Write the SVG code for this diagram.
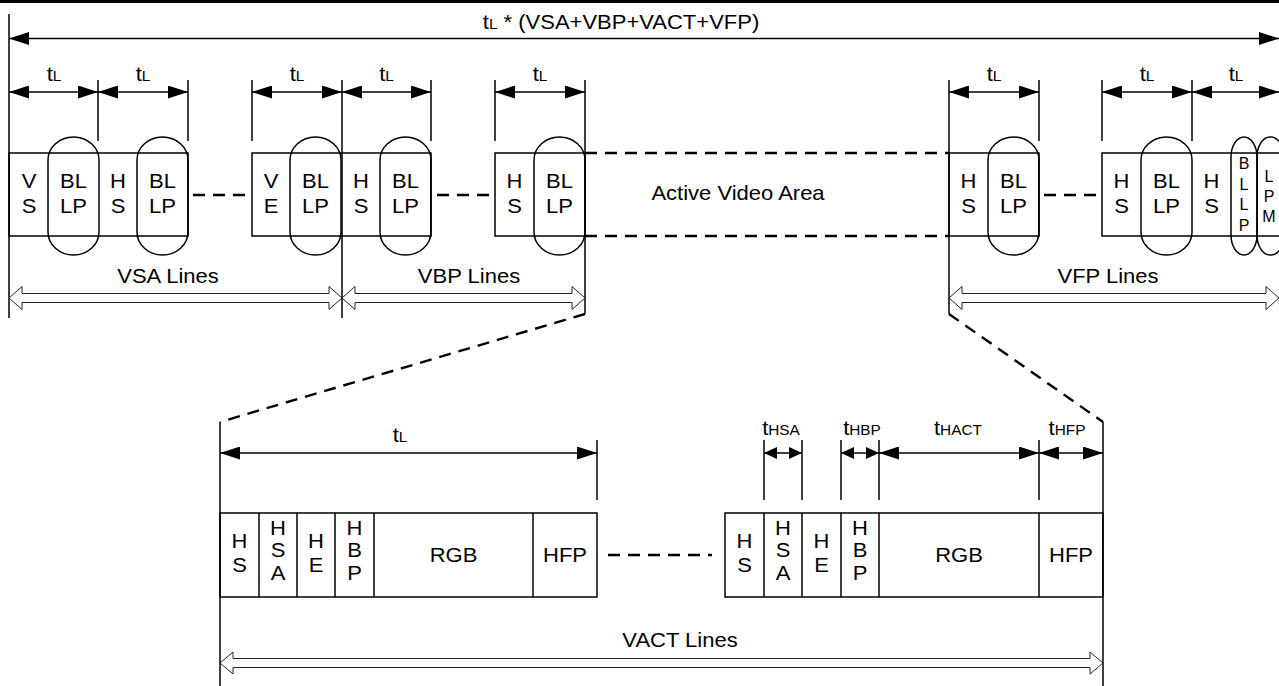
<svg xmlns="http://www.w3.org/2000/svg" width="1279" height="686" viewBox="0 0 1279 686">
<style>
.ln{stroke:#000;stroke-width:1.5;fill:none}
.dl{stroke:#000;stroke-width:2.4;fill:none;stroke-dasharray:12 8}
.pill{stroke:#000;stroke-width:1.5;fill:none}
.ha{stroke:#222;stroke-width:1;fill:#fff}
.t{font-family:"Liberation Sans",Arial,sans-serif;font-size:20px;fill:#000;text-anchor:middle}
.ts{font-family:"Liberation Sans",Arial,sans-serif;font-size:16px;fill:#000;text-anchor:middle}
.sub{font-size:14px}
</style>
<defs>
<marker id="ah" viewBox="0 0 20 13" refX="20" refY="6.5" markerWidth="20" markerHeight="13" markerUnits="userSpaceOnUse" orient="auto-start-reverse"><path d="M0,0 L20,6.5 L0,13 Z" fill="#000"/></marker>
<marker id="ahs" viewBox="0 0 13 12" refX="13" refY="6" markerWidth="13" markerHeight="12" markerUnits="userSpaceOnUse" orient="auto-start-reverse"><path d="M0,0 L13,6 L0,12 Z" fill="#000"/></marker>
</defs>
<rect x="0" y="0" width="1279" height="686" fill="#fff"/>
<rect x="0" y="0" width="1279" height="3" fill="#000"/>

<g id="connectors">
  <!-- long vertical lines -->
  <line class="ln" x1="9" y1="14" x2="9" y2="318"/>
  <line class="ln" x1="342" y1="80" x2="342" y2="318"/>
  <line class="ln" x1="585" y1="80" x2="585" y2="314"/>
  <line class="ln" x1="949" y1="80" x2="949" y2="314"/>
  <!-- ticks -->
  <line class="ln" x1="98" y1="80" x2="98" y2="141"/>
  <line class="ln" x1="188" y1="80" x2="188" y2="141"/>
  <line class="ln" x1="252" y1="80" x2="252" y2="141"/>
  <line class="ln" x1="431" y1="80" x2="431" y2="141"/>
  <line class="ln" x1="495" y1="80" x2="495" y2="141"/>
  <line class="ln" x1="1039" y1="80" x2="1039" y2="141"/>
  <line class="ln" x1="1102" y1="80" x2="1102" y2="141"/>
  <line class="ln" x1="1192" y1="80" x2="1192" y2="141"/>
  <!-- top span arrow -->
  <line class="ln" x1="9" y1="38.5" x2="1279" y2="38.5" marker-start="url(#ah)" marker-end="url(#ah)"/>
  <!-- tL arrows -->
  <line class="ln" x1="9" y1="92" x2="98" y2="92" marker-start="url(#ah)" marker-end="url(#ah)"/>
  <line class="ln" x1="98" y1="92" x2="188" y2="92" marker-start="url(#ah)" marker-end="url(#ah)"/>
  <line class="ln" x1="252" y1="92" x2="342" y2="92" marker-start="url(#ah)" marker-end="url(#ah)"/>
  <line class="ln" x1="342" y1="92" x2="431" y2="92" marker-start="url(#ah)" marker-end="url(#ah)"/>
  <line class="ln" x1="495" y1="92" x2="585" y2="92" marker-start="url(#ah)" marker-end="url(#ah)"/>
  <line class="ln" x1="949" y1="92" x2="1039" y2="92" marker-start="url(#ah)" marker-end="url(#ah)"/>
  <line class="ln" x1="1102" y1="92" x2="1192" y2="92" marker-start="url(#ah)" marker-end="url(#ah)"/>
  <line class="ln" x1="1192" y1="92" x2="1279" y2="92" marker-start="url(#ah)" marker-end="url(#ah)"/>
  <!-- dashed links in main row -->
  <line class="dl" x1="193" y1="195" x2="247" y2="195"/>
  <line class="dl" x1="437" y1="195" x2="489" y2="195"/>
  <line class="dl" x1="1044" y1="195" x2="1097" y2="195"/>
  <line class="dl" x1="585" y1="153" x2="949" y2="153"/>
  <line class="dl" x1="585" y1="236" x2="949" y2="236"/>
  <!-- hollow double arrows -->
  <path class="ha" d="M9,298 L22,286.5 L22,293.5 L329,293.5 L329,286.5 L342,298 L329,309.5 L329,302.5 L22,302.5 L22,309.5 Z"/>
  <path class="ha" d="M342,298 L355,286.5 L355,293.5 L572,293.5 L572,286.5 L585,298 L572,309.5 L572,302.5 L355,302.5 L355,309.5 Z"/>
  <path class="ha" d="M949,298 L962,286.5 L962,293.5 L1266,293.5 L1266,286.5 L1279,298 L1266,309.5 L1266,302.5 L962,302.5 L962,309.5 Z"/>
  <!-- zoom lines -->
  <line class="dl" x1="585" y1="314" x2="220" y2="422"/>
  <line class="dl" x1="949" y1="314" x2="1103" y2="422"/>
  <line class="ln" x1="220" y1="422" x2="220" y2="686"/>
  <line class="ln" x1="1103" y1="422" x2="1103" y2="686"/>
  <!-- bottom ticks and arrows -->
  <line class="ln" x1="597" y1="440" x2="597" y2="500"/>
  <line class="ln" x1="764" y1="440" x2="764" y2="500"/>
  <line class="ln" x1="802" y1="440" x2="802" y2="500"/>
  <line class="ln" x1="841" y1="440" x2="841" y2="500"/>
  <line class="ln" x1="879" y1="440" x2="879" y2="500"/>
  <line class="ln" x1="1039" y1="440" x2="1039" y2="500"/>
  <line class="ln" x1="220" y1="453" x2="597" y2="453" marker-start="url(#ah)" marker-end="url(#ah)"/>
  <line class="ln" x1="764" y1="453" x2="802" y2="453" marker-start="url(#ahs)" marker-end="url(#ahs)"/>
  <line class="ln" x1="841" y1="453" x2="879" y2="453" marker-start="url(#ahs)" marker-end="url(#ahs)"/>
  <line class="ln" x1="879" y1="453" x2="1039" y2="453" marker-start="url(#ah)" marker-end="url(#ah)"/>
  <line class="ln" x1="1039" y1="453" x2="1103" y2="453" marker-start="url(#ah)" marker-end="url(#ah)"/>
  <line class="dl" x1="608" y1="555" x2="712" y2="555"/>
  <path class="ha" d="M220,663 L233,652 L233,658.5 L1090,658.5 L1090,652 L1103,663 L1090,674 L1090,667.5 L233,667.5 L233,674 Z"/>
</g>

<g id="labels">
  <text class="t" transform="translate(621 29) scale(1.1 1)">t<tspan class="sub">L</tspan> * (VSA+VBP+VACT+VFP)</text>
  <text class="t" transform="translate(54 81) scale(1.1 1)">t<tspan class="sub">L</tspan></text>
  <text class="t" transform="translate(143 81) scale(1.1 1)">t<tspan class="sub">L</tspan></text>
  <text class="t" transform="translate(297 81) scale(1.1 1)">t<tspan class="sub">L</tspan></text>
  <text class="t" transform="translate(386.5 81) scale(1.1 1)">t<tspan class="sub">L</tspan></text>
  <text class="t" transform="translate(540 81) scale(1.1 1)">t<tspan class="sub">L</tspan></text>
  <text class="t" transform="translate(994 81) scale(1.1 1)">t<tspan class="sub">L</tspan></text>
  <text class="t" transform="translate(1147 81) scale(1.1 1)">t<tspan class="sub">L</tspan></text>
  <text class="t" transform="translate(1236 81) scale(1.1 1)">t<tspan class="sub">L</tspan></text>
  <text class="t" transform="translate(168 283) scale(1.1 1)">VSA Lines</text>
  <text class="t" transform="translate(469 283) scale(1.1 1)">VBP Lines</text>
  <text class="t" transform="translate(1108 283) scale(1.1 1)">VFP Lines</text>
  <text class="t" transform="translate(738 200) scale(1.1 1)">Active Video Area</text>
  <text class="t" transform="translate(400 442) scale(1.1 1)">t<tspan class="sub">L</tspan></text>
  <text class="t" transform="translate(781 435) scale(1.1 1)">t<tspan class="sub">HSA</tspan></text>
  <text class="t" transform="translate(862 435) scale(1.1 1)">t<tspan class="sub">HBP</tspan></text>
  <text class="t" transform="translate(958 435) scale(1.1 1)">t<tspan class="sub">HACT</tspan></text>
  <text class="t" transform="translate(1067 435) scale(1.1 1)">t<tspan class="sub">HFP</tspan></text>
  <text class="t" transform="translate(680 647) scale(1.1 1)">VACT Lines</text>
</g>

<g id="vsa-block">
  <rect class="ln" x="9" y="153" width="179" height="83"/>
  <rect class="pill" x="48" y="137" width="51" height="118" rx="25.5" ry="23"/>
  <rect class="pill" x="137" y="137" width="51" height="118" rx="25.5" ry="23"/>
  <text class="t" transform="translate(29 188) scale(1.1 1)"><tspan x="0" y="0">V</tspan><tspan x="0" y="25">S</tspan></text>
  <text class="t" transform="translate(73.5 188) scale(1.1 1)"><tspan x="0" y="0">BL</tspan><tspan x="0" y="25">LP</tspan></text>
  <text class="t" transform="translate(118 188) scale(1.1 1)"><tspan x="0" y="0">H</tspan><tspan x="0" y="25">S</tspan></text>
  <text class="t" transform="translate(162.5 188) scale(1.1 1)"><tspan x="0" y="0">BL</tspan><tspan x="0" y="25">LP</tspan></text>
</g>

<g id="ve-vbp-block">
  <rect class="ln" x="252" y="153" width="179" height="83"/>
  <rect class="pill" x="290" y="137" width="51" height="118" rx="25.5" ry="23"/>
  <rect class="pill" x="380" y="137" width="51" height="118" rx="25.5" ry="23"/>
  <text class="t" transform="translate(271 188) scale(1.1 1)"><tspan x="0" y="0">V</tspan><tspan x="0" y="25">E</tspan></text>
  <text class="t" transform="translate(315.5 188) scale(1.1 1)"><tspan x="0" y="0">BL</tspan><tspan x="0" y="25">LP</tspan></text>
  <text class="t" transform="translate(361 188) scale(1.1 1)"><tspan x="0" y="0">H</tspan><tspan x="0" y="25">S</tspan></text>
  <text class="t" transform="translate(405.5 188) scale(1.1 1)"><tspan x="0" y="0">BL</tspan><tspan x="0" y="25">LP</tspan></text>
</g>

<g id="vbp-last-block">
  <rect class="ln" x="495" y="153" width="90" height="83"/>
  <rect class="pill" x="534" y="137" width="51" height="118" rx="25.5" ry="23"/>
  <text class="t" transform="translate(514.5 188) scale(1.1 1)"><tspan x="0" y="0">H</tspan><tspan x="0" y="25">S</tspan></text>
  <text class="t" transform="translate(559.5 188) scale(1.1 1)"><tspan x="0" y="0">BL</tspan><tspan x="0" y="25">LP</tspan></text>
</g>

<g id="vfp-first-block">
  <rect class="ln" x="949" y="153" width="90" height="83"/>
  <rect class="pill" x="988" y="137" width="51" height="118" rx="25.5" ry="23"/>
  <text class="t" transform="translate(968.5 188) scale(1.1 1)"><tspan x="0" y="0">H</tspan><tspan x="0" y="25">S</tspan></text>
  <text class="t" transform="translate(1013.5 188) scale(1.1 1)"><tspan x="0" y="0">BL</tspan><tspan x="0" y="25">LP</tspan></text>
</g>

<g id="vfp-last-block">
  <rect class="ln" x="1102" y="153" width="190" height="83"/>
  <rect class="pill" x="1141" y="137" width="51" height="118" rx="25.5" ry="23"/>
  <rect class="pill" x="1231" y="137" width="26" height="118" rx="13" ry="20"/>
  <rect class="pill" x="1257" y="137" width="27" height="118" rx="13" ry="20"/>
  <text class="t" transform="translate(1121.5 188) scale(1.1 1)"><tspan x="0" y="0">H</tspan><tspan x="0" y="25">S</tspan></text>
  <text class="t" transform="translate(1166.5 188) scale(1.1 1)"><tspan x="0" y="0">BL</tspan><tspan x="0" y="25">LP</tspan></text>
  <text class="t" transform="translate(1211.5 188) scale(1.1 1)"><tspan x="0" y="0">H</tspan><tspan x="0" y="25">S</tspan></text>
  <text class="ts" transform="translate(1244 169)"><tspan x="0" y="0">B</tspan><tspan x="0" y="20.5">L</tspan><tspan x="0" y="41">L</tspan><tspan x="0" y="61.5">P</tspan></text>
  <text class="ts" transform="translate(1269 181.5)"><tspan x="0" y="0">L</tspan><tspan x="0" y="20">P</tspan><tspan x="0" y="40">M</tspan></text>
</g>

<g id="line-left">
  <rect class="ln" x="220" y="513" width="377" height="84"/>
  <line class="ln" x1="259" y1="513" x2="259" y2="597"/>
  <line class="ln" x1="297" y1="513" x2="297" y2="597"/>
  <line class="ln" x1="335" y1="513" x2="335" y2="597"/>
  <line class="ln" x1="374" y1="513" x2="374" y2="597"/>
  <line class="ln" x1="533" y1="513" x2="533" y2="597"/>
  <text class="t" transform="translate(239.5 548) scale(1.1 1)"><tspan x="0" y="0">H</tspan><tspan x="0" y="24">S</tspan></text>
  <text class="t" transform="translate(278 535) scale(1.1 1)"><tspan x="0" y="0">H</tspan><tspan x="0" y="22.5">S</tspan><tspan x="0" y="45">A</tspan></text>
  <text class="t" transform="translate(316 548) scale(1.1 1)"><tspan x="0" y="0">H</tspan><tspan x="0" y="24">E</tspan></text>
  <text class="t" transform="translate(354.5 535) scale(1.1 1)"><tspan x="0" y="0">H</tspan><tspan x="0" y="22.5">B</tspan><tspan x="0" y="45">P</tspan></text>
  <text class="t" transform="translate(453.5 562) scale(1.1 1)">RGB</text>
  <text class="t" transform="translate(565 562) scale(1.1 1)">HFP</text>
</g>

<g id="line-right">
  <rect class="ln" x="725" y="513" width="378" height="84"/>
  <line class="ln" x1="764" y1="513" x2="764" y2="597"/>
  <line class="ln" x1="802" y1="513" x2="802" y2="597"/>
  <line class="ln" x1="841" y1="513" x2="841" y2="597"/>
  <line class="ln" x1="879" y1="513" x2="879" y2="597"/>
  <line class="ln" x1="1039" y1="513" x2="1039" y2="597"/>
  <text class="t" transform="translate(744.5 548) scale(1.1 1)"><tspan x="0" y="0">H</tspan><tspan x="0" y="24">S</tspan></text>
  <text class="t" transform="translate(783 535) scale(1.1 1)"><tspan x="0" y="0">H</tspan><tspan x="0" y="22.5">S</tspan><tspan x="0" y="45">A</tspan></text>
  <text class="t" transform="translate(821.5 548) scale(1.1 1)"><tspan x="0" y="0">H</tspan><tspan x="0" y="24">E</tspan></text>
  <text class="t" transform="translate(860 535) scale(1.1 1)"><tspan x="0" y="0">H</tspan><tspan x="0" y="22.5">B</tspan><tspan x="0" y="45">P</tspan></text>
  <text class="t" transform="translate(959 562) scale(1.1 1)">RGB</text>
  <text class="t" transform="translate(1071 562) scale(1.1 1)">HFP</text>
</g>
</svg>
